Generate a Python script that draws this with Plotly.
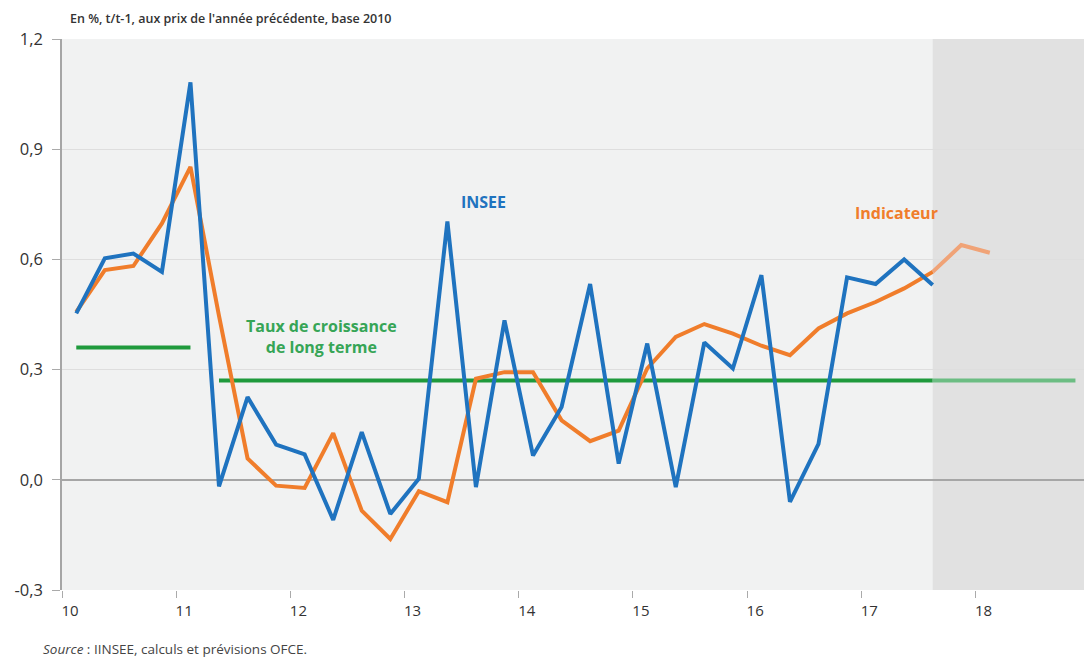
import plotly.graph_objects as go

# ---------------- data ----------------
quarters = [f"{y}T{q}" for y in range(2010, 2019) for q in range(1, 5)]  # 2010T1 .. 2018T4

insee = [0.453, 0.603, 0.616, 0.566, 1.082, -0.018, 0.225, 0.096, 0.069, -0.109,
         0.130, -0.093, 0.003, 0.703, -0.020, 0.434, 0.066, 0.198, 0.533, 0.044,
         0.371, -0.020, 0.374, 0.303, 0.557, -0.060, 0.098, 0.551, 0.533, 0.600,
         0.530]  # 2010T1 .. 2017T3

indicateur = [0.457, 0.571, 0.582, 0.698, 0.852, 0.446, 0.058, -0.016, -0.022, 0.127,
              -0.084, -0.161, -0.031, -0.061, 0.275, 0.293, 0.293, 0.162, 0.105, 0.134,
              0.303, 0.389, 0.424, 0.398, 0.365, 0.339, 0.412, 0.453, 0.484, 0.521,
              0.566, 0.639, 0.618]  # 2010T1 .. 2018T1 (last two = prévisions)

long_term = [0.36] * 5 + [0.27] * 31  # taux de croissance de long terme, 2010T1 .. 2018T4

n_obs = len(insee)            # last observed quarter = 2017T3
y_tickvals = [-0.3, 0.0, 0.3, 0.6, 0.9, 1.2]
y_ticktext = ["-0,3", "0,0", "0,3", "0,6", "0,9", "1,2"]
x_tickvals = list(range(10, 19))
x_ticktext = [str(v) for v in x_tickvals]


def qpos(label):
    """Position of a quarter on the year axis (year 2010 -> 10), centred in its quarter."""
    year, q = label.split("T")
    return int(year) - 2000 + (int(q) - 0.5) / 4


xq = [qpos(q) for q in quarters]

# ---------------- colours ----------------
BLUE = "#1f73bf"
ORANGE = "#f07d2b"
ORANGE_LIGHT = "#f0a377"
GREEN = "#1f9a3c"
GREEN_LIGHT = "#6cbd83"
GREEN_TEXT = "#36a556"
FONT = "Open Sans"

fig = go.Figure()

# forecast shading
fig.add_shape(type="rect", xref="x", yref="paper", x0=xq[n_obs - 1], x1=19.5, y0=0, y1=1,
              fillcolor="#e1e1e1", line=dict(width=0), layer="below")

# long-term growth lines
fig.add_trace(go.Scatter(x=xq[:5], y=long_term[:5], mode="lines",
                         line=dict(color=GREEN, width=4), hoverinfo="skip"))
fig.add_trace(go.Scatter(x=xq[5:n_obs], y=long_term[5:n_obs], mode="lines",
                         line=dict(color=GREEN, width=4), hoverinfo="skip"))
fig.add_trace(go.Scatter(x=xq[n_obs - 1:], y=long_term[n_obs - 1:], mode="lines",
                         line=dict(color=GREEN_LIGHT, width=4), hoverinfo="skip"))

# indicateur (forecast part lighter)
fig.add_trace(go.Scatter(x=xq[n_obs - 1:len(indicateur)], y=indicateur[n_obs - 1:],
                         mode="lines", line=dict(color=ORANGE_LIGHT, width=4)))
fig.add_trace(go.Scatter(x=xq[:n_obs], y=indicateur[:n_obs], mode="lines",
                         line=dict(color=ORANGE, width=4)))
# INSEE
fig.add_trace(go.Scatter(x=xq[:n_obs], y=insee, mode="lines",
                         line=dict(color=BLUE, width=4)))

# labels
fig.add_annotation(x=13.69, y=0.756, text="<b>INSEE</b>", showarrow=False,
                   font=dict(family=FONT, size=16, color=BLUE))
fig.add_annotation(x=17.31, y=0.726, text="<b>Indicateur</b>", showarrow=False,
                   font=dict(family=FONT, size=16, color=ORANGE))
fig.add_annotation(x=12.27, y=0.391, text="<b>Taux de croissance<br>de long terme</b>",
                   showarrow=False, align="center",
                   font=dict(family=FONT, size=16, color=GREEN_TEXT))

fig.add_annotation(xref="paper", yref="paper", x=0.006, y=1.038, xanchor="left", yanchor="middle",
                   text="En %, t/t-1, aux prix de l'année précédente, base 2010", showarrow=False,
                   font=dict(family=FONT, size=12.5, color="#333333", weight=600))
fig.add_annotation(xref="paper", yref="paper", x=-0.021, y=-0.107, xanchor="left", yanchor="middle",
                   text="<i>Source</i> : IINSEE, calculs et prévisions OFCE.", showarrow=False,
                   font=dict(family=FONT, size=13.5, color="#444444"))

fig.update_layout(
    width=1084, height=659,
    margin=dict(l=62, r=0, t=39, b=69),
    paper_bgcolor="white", plot_bgcolor="#f1f2f2",
    showlegend=False, separators=", ",
    font=dict(family=FONT, size=15, color="#333333"),
)
fig.update_xaxes(range=[10, 18.95], tickvals=x_tickvals, ticktext=x_ticktext,
                 showgrid=False, zeroline=False, showline=False,
                 ticks="outside", ticklen=7, tickcolor="#aaaaaa", tickwidth=1,
                 ticklabelshift=8, tickfont=dict(size=15, color="#333333"))
fig.update_yaxes(range=[-0.3, 1.2], tickvals=y_tickvals, ticktext=y_ticktext,
                 showgrid=True, gridcolor="#dedede", gridwidth=1,
                 zeroline=True, zerolinecolor="#a6a6a6", zerolinewidth=1.5,
                 showline=True, linecolor="#a6a6a6", linewidth=1.5,
                 ticks="outside", ticklen=8, tickcolor="#aaaaaa", tickwidth=1,
                 ticklabelstandoff=6, tickfont=dict(size=16.5, color="#333333"))

fig.write_html("out.html", config={"displayModeBar": False},
               post_script="document.body.style.margin='0';document.body.style.overflow='hidden';")
